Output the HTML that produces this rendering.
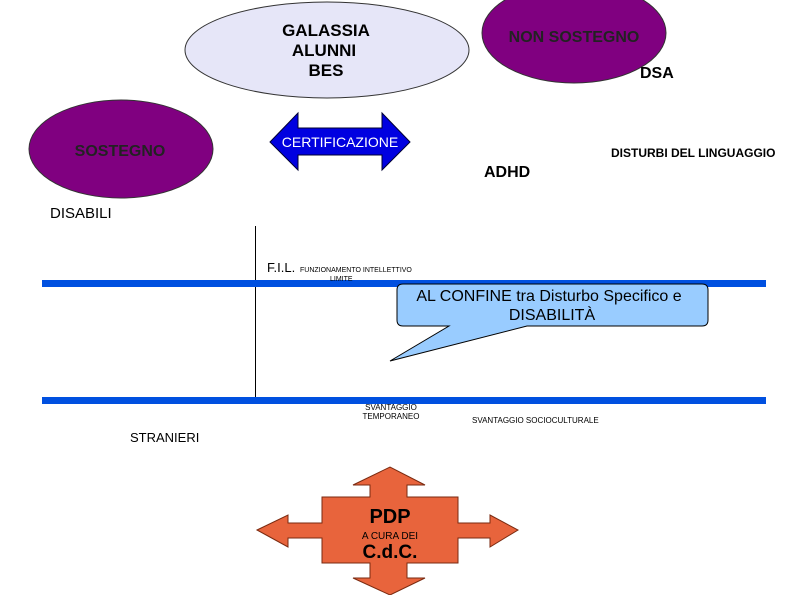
<!DOCTYPE html>
<html><head><meta charset="utf-8"><style>
html,body{margin:0;padding:0;background:#fff;}
svg{display:block;}
text{font-family:"Liberation Sans",sans-serif;}
</style></head><body>
<svg width="794" height="595" viewBox="0 0 794 595" xmlns="http://www.w3.org/2000/svg">
<ellipse cx="327" cy="50" rx="142" ry="48" fill="#e6e6f8" stroke="#333" stroke-width="1"/>
<text x="326" y="36" font-size="17" font-weight="bold" text-anchor="middle">GALASSIA</text>
<text x="324" y="56" font-size="17" font-weight="bold" text-anchor="middle">ALUNNI</text>
<text x="326" y="76" font-size="17" font-weight="bold" text-anchor="middle">BES</text>

<ellipse cx="574" cy="33" rx="92" ry="50" fill="#800080" stroke="#333"/>
<text x="574" y="42" font-size="16" font-weight="bold" fill="#222" text-anchor="middle">NON SOSTEGNO</text>
<text x="640" y="78" font-size="16" font-weight="bold">DSA</text>

<ellipse cx="121" cy="149" rx="92" ry="49" fill="#800080" stroke="#333"/>
<text x="120" y="156" font-size="16" font-weight="bold" fill="#222" text-anchor="middle">SOSTEGNO</text>
<text x="50" y="218" font-size="15">DISABILI</text>

<polygon points="270,142 298,113 298,128 382,128 382,113 410,142 382,170 382,155 298,155 298,170" fill="#0000e0" stroke="#000033"/>
<text x="340" y="147" font-size="14" fill="#fff" text-anchor="middle">CERTIFICAZIONE</text>

<text x="611" y="157" font-size="12" font-weight="bold">DISTURBI DEL LINGUAGGIO</text>
<text x="484" y="177" font-size="16" font-weight="bold">ADHD</text>

<line x1="255.5" y1="226" x2="255.5" y2="397" stroke="#000" stroke-width="1"/>
<rect x="42" y="280" width="724" height="7" fill="#0050e0"/>
<rect x="42" y="397" width="724" height="7" fill="#0050e0"/>
<text x="267" y="272" font-size="13">F.I.L.</text>
<text x="300" y="272" font-size="7">FUNZIONAMENTO INTELLETTIVO</text>
<text x="330" y="281" font-size="7">LIMITE</text>

<path d="M403,284 H702 Q708,284 708,290 V320 Q708,326 702,326 H527 L390,361 L449,326 H403 Q397,326 397,320 V290 Q397,284 403,284 Z" fill="#99ccff" stroke="#000" stroke-width="1"/>
<text x="549" y="301" font-size="16" text-anchor="middle">AL CONFINE tra Disturbo Specifico e</text>
<text x="552" y="320" font-size="16" text-anchor="middle">DISABILITÀ</text>

<text x="391" y="410" font-size="8" text-anchor="middle">SVANTAGGIO</text>
<text x="391" y="419" font-size="8" text-anchor="middle">TEMPORANEO</text>
<text x="472" y="423" font-size="8">SVANTAGGIO SOCIOCULTURALE</text>
<text x="130" y="442" font-size="13">STRANIERI</text>

<polygon points="257,530 288,515 288,523 322,523 322,497 370,497 370,485 353,485 390,467 425,485 407,485 407,497 458,497 458,523 490,523 490,515 518,530 490,547 490,538 458,538 458,563 407,563 407,578 425,578 390,595 353,578 370,578 370,563 322,563 322,538 288,538 288,547" fill="#e8643c" stroke="#7a2a10" stroke-width="1"/>
<text x="390" y="523" font-size="20" font-weight="bold" text-anchor="middle">PDP</text>
<text x="390" y="539" font-size="10" text-anchor="middle">A CURA DEI</text>
<text x="390" y="558" font-size="19" font-weight="bold" text-anchor="middle">C.d.C.</text>
</svg>
</body></html>
